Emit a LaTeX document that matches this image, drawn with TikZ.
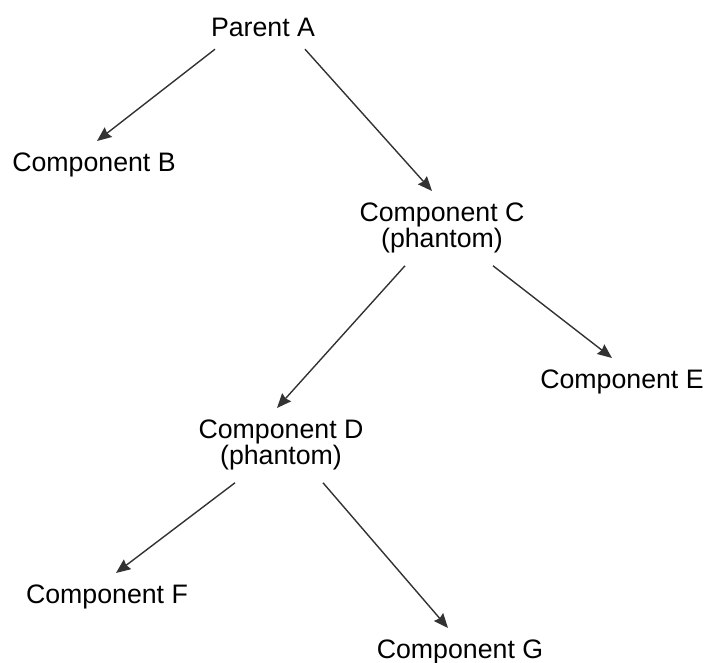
\documentclass[tikz,border=0pt]{standalone}
\usepackage{fontspec}
\setmainfont{Liberation Sans}
\usepackage{tikz}
\usetikzlibrary{arrows.meta, positioning}

\tikzset{
    comp/.style={anchor=north, inner xsep=0pt, inner ysep=0.3cm, align=center, font=\fontsize{19}{18.5}\selectfont},
    link/.style={-{Stealth[length=0.36cm, width=0.3cm, inset=0.04cm]}, draw=black!80, line width=1pt}
}

\begin{document}
\begin{tikzpicture}[x=0.025cm, y=-0.025cm]
    \useasboundingbox (0,0) rectangle (705,663);

    % Top level
    \node [comp] (parentA) at (263,6) {Parent A};
    \node [comp] (compB) at (94,141) {Component B};
    \node [comp] (compC) at (442,191) {Component C\\(phantom)};

    % Second level
    \node [comp] (compD) at (281,408) {Component D\\(phantom)};
    \node [comp] (compE) at (622,358) {Component E};

    % Third level
    \node [comp] (compF) at (107,573) {Component F};
    \node [comp] (compG) at (460,628) {Component G};

    % Connections
    \draw[link] ([xshift=-1.2cm]parentA.south) -- ([xshift=0.075cm]compB.north);
    \draw[link] ([xshift=1.05cm]parentA.south) -- ([xshift=-0.25cm]compC.north);
    \draw[link] ([xshift=-0.925cm]compC.south) -- ([xshift=-0.1cm]compD.north);
    \draw[link] ([xshift=1.275cm]compC.south) -- ([xshift=-0.25cm]compE.north);
    \draw[link] ([xshift=-1.15cm]compD.south) -- ([xshift=0.225cm]compF.north);
    \draw[link] ([xshift=1.05cm]compD.south) -- ([xshift=-0.3cm]compG.north);
\end{tikzpicture}
\end{document}
